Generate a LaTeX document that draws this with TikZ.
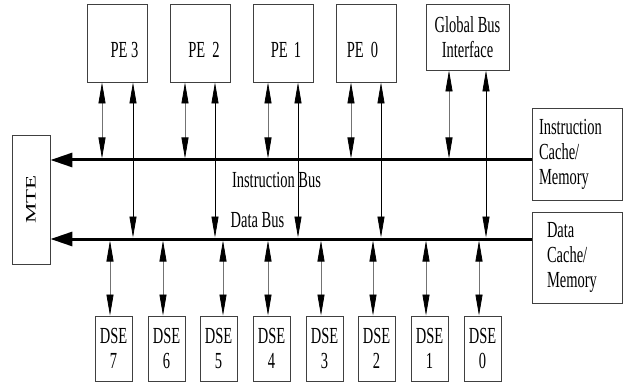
\documentclass[tikz,border=0pt]{standalone}
\usepackage{graphicx}
\usepackage{fontspec}
\setmainfont{Liberation Serif}[FakeStretch=0.63]
\newfontfamily\uprightserif{Liberation Serif}
\usetikzlibrary{arrows.meta}
\begin{document}
\begin{tikzpicture}[x=1pt,y=-1pt,
  lbl/.style={font=\fontsize{23}{25}\selectfont},
  box/.style={draw=black!75, line width=0.9pt, inner sep=0pt, lbl},
  pebox/.style={box, minimum width=60pt, minimum height=78pt},
  dsebox/.style={box, minimum width=37pt, minimum height=65pt, align=center},
  biarrow/.style={line width=0.8pt, draw=black!55,
    arrows={Triangle[length=21pt,width=7pt,color=black]-Triangle[length=21pt,width=7pt,color=black]}},
  longarrow/.style={line width=0.8pt, draw=black,
    arrows={Triangle[length=21pt,width=7pt]-Triangle[length=21pt,width=7pt]}},
  bus/.style={line width=3pt, draw=black, arrows={-Triangle[length=22pt,width=14pt]}},
  buslabel/.style={lbl, inner sep=0pt}
]
\useasboundingbox (0,0) rectangle (626,382);

% processing elements and bus interface
\node[pebox, label={[lbl,xshift=7.5pt,yshift=-7pt]center:PE 3}] (pe3) at (117,43) {};
\node[pebox, label={[lbl,xshift=4pt,yshift=-7pt]center:PE\hspace{7pt}2}] (pe2) at (200,43) {};
\node[pebox, label={[lbl,xshift=3pt,yshift=-7pt]center:PE\hspace{6pt}1}] (pe1) at (283,43) {};
\node[pebox, label={[lbl,xshift=-4pt,yshift=-7pt]center:PE\hspace{7pt}0}] (pe0) at (366.5,43) {};
\node[box, minimum width=83pt, minimum height=66pt, align=center] (gbi) at (467.5,37) {Global Bus\\Interface};

% caches
\node[box, minimum height=92pt, text width=76pt, inner xsep=7pt, align=left] (ic) at (577,154) {Instruction\\Cache/\\Memory};
\node[box, minimum height=91pt, text width=60pt, inner xsep=15pt, align=left] (dc) at (577,257.5) {Data\\Cache/\\Memory};

% MTE
\node[box, minimum width=38pt, minimum height=129pt,
  label={[rotate=90, font=\uprightserif\fontsize{23}{25}\selectfont]center:\scalebox{1}[0.63]{MTE}}] (mte) at (31,199.5) {};

% data storage elements
\node[dsebox] (dse7) at (113.5,348.5) {DSE\\7};
\node[dsebox] (dse6) at (166.5,348.5) {DSE\\6};
\node[dsebox] (dse5) at (218.5,348.5) {DSE\\5};
\node[dsebox] (dse4) at (271.5,348.5) {DSE\\4};
\node[dsebox] (dse3) at (324.5,348.5) {DSE\\3};
\node[dsebox] (dse2) at (376.5,348.5) {DSE\\2};
\node[dsebox] (dse1) at (429.5,348.5) {DSE\\1};
\node[dsebox] (dse0) at (482.5,348.5) {DSE\\0};

% buses
\coordinate (ibus) at (0,160);
\coordinate (dbus) at (0,239);
\coordinate (ibtop) at (0,158.5);
\coordinate (dbtop) at (0,237.5);
\coordinate (dbbot) at (0,240.5);
\draw[bus] (ic.west |- ibus) -- (mte.east |- ibus);
\draw[bus] (dc.west |- dbus) -- (mte.east |- dbus);
\node[buslabel] (ilabel) at (276.5,180) {Instruction Bus};
\node[buslabel] (dlabel) at (257.5,220) {Data Bus};

% links to the instruction bus
\foreach \n/\dx in {pe3/-15, pe2/-15, pe1/-15, pe0/-15.5, gbi/-18.5} {
  \path ([xshift=\dx pt]\n.south) coordinate (s);
  \draw[biarrow] (s) -- (s |- ibtop);
}
% links to the data bus
\foreach \n/\dx in {pe3/16, pe2/15, pe1/15, pe0/14.5, gbi/18.5} {
  \path ([xshift=\dx pt]\n.south) coordinate (s);
  \draw[longarrow] (s) -- (s |- dbtop);
}
\foreach \k/\dx in {7/-3.5, 6/-3.5, 5/4.5, 4/-3.5, 3/-3.5, 2/-3.5, 1/-3.5, 0/-3.5} {
  \path ([xshift=\dx pt]dse\k.north) coordinate (s);
  \draw[biarrow] (s |- dbbot) -- (s);
}
\end{tikzpicture}
\end{document}
